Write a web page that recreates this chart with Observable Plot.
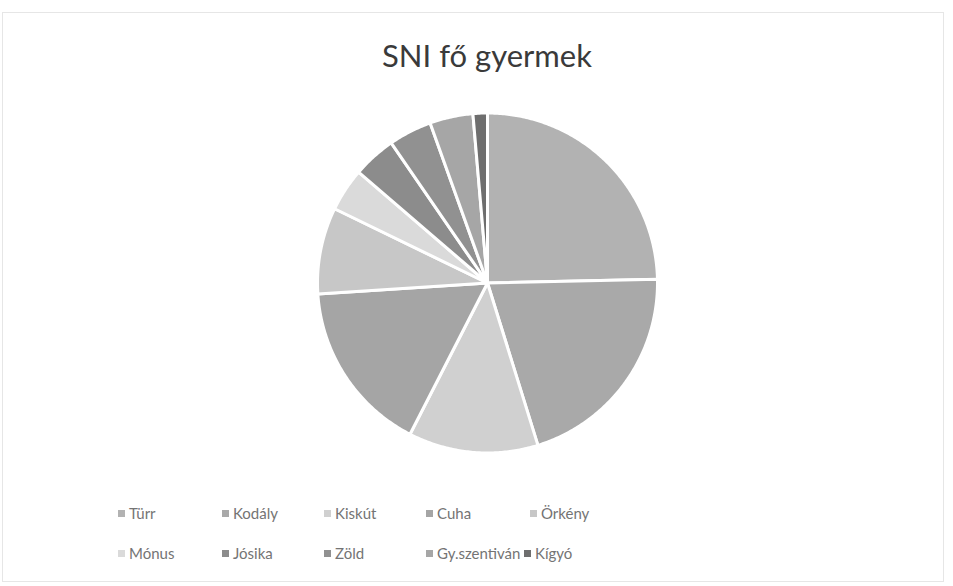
<!DOCTYPE html>
<html>
<head>
<meta charset="utf-8">
<script src="https://cdn.jsdelivr.net/npm/d3@7"></script>
<script src="https://cdn.jsdelivr.net/npm/@observablehq/plot@0.6"></script>
<style>
  html, body { margin: 0; padding: 0; background: #fff; }
  #wrap { position: relative; width: 953px; height: 586px; overflow: hidden; font-family: Lato, "Open Sans", sans-serif; }
  #frame { position: absolute; left: 2px; top: 12px; width: 942px; height: 570px; border: 1px solid #e6e6e6; box-sizing: border-box; }
  #title { position: absolute; left: 21px; width: 932px; top: 36px; text-align: center; font-size: 31px; color: #3a3a3a; line-height: 38px; }
  #chart { position: absolute; left: 0; top: 95px; }
  .item { position: absolute; display: flex; align-items: center; font-size: 15px; color: #747474; white-space: nowrap; line-height: 20px; }
  .sw { width: 7px; height: 7px; margin-right: 4px; display: inline-block; }
</style>
</head>
<body>
<div id="wrap">
  <div id="frame"></div>
  <div id="title">SNI fő gyermek</div>
  <div id="chart"></div>
  <div id="legend"></div>
</div>
<script>
const labels = ["Türr", "Kodály", "Kiskút", "Cuha", "Örkény", "Mónus", "Jósika", "Zöld", "Gy.szentiván", "Kígyó"];
const values = [18, 15, 9, 12, 6, 3, 3, 3, 3, 1];
const colors = ["#b2b2b2", "#a9a9a9", "#d0d0d0", "#a5a5a5", "#c7c7c7", "#dadada", "#8c8c8c", "#919191", "#a6a6a6", "#6e6e6e"];

// Slice geometry in unit-circle coordinates, clockwise from 12 o'clock
const total = d3.sum(values);
let acc = 0;
const features = labels.map((label, i) => {
  const a0 = acc / total * 2 * Math.PI;
  acc += values[i];
  const a1 = acc / total * 2 * Math.PI;
  const n = Math.max(2, Math.ceil((a1 - a0) / 0.01));
  const pts = [[0, 0]];
  for (let k = 0; k <= n; k++) {
    const a = a0 + (a1 - a0) * k / n;
    pts.push([Math.sin(a), -Math.cos(a)]);
  }
  pts.push([0, 0]);
  return {type: "Feature", properties: {label, value: values[i]}, geometry: {type: "Polygon", coordinates: [pts]}};
});

const plot = Plot.plot({
  width: 953,
  height: 375,
  marginLeft: 21,
  marginRight: 0,
  marginTop: 0,
  marginBottom: 0,
  projection: {type: "identity", domain: {type: "MultiPoint", coordinates: [[-1, -1], [1, 1]]}, inset: 17.5},
  color: {domain: labels, range: colors},
  marks: [
    Plot.geo(features, {fill: d => d.properties.label, stroke: "white", strokeWidth: 3, strokeLinejoin: "round"})
  ]
});
document.getElementById("chart").appendChild(plot);

// Legend (two rows, like the original)
const legend = document.getElementById("legend");
const rowsY = [503, 543];
const colX = [118, 222, 324, 426, 530];
let prev = null;
labels.forEach((label, i) => {
  const r = Math.floor(i / 5), c = i % 5;
  const item = document.createElement("div");
  item.className = "item";
  let x = colX[c];
  item.style.top = rowsY[r] + "px";
  const sw = document.createElement("span");
  sw.className = "sw";
  sw.style.background = colors[i];
  item.appendChild(sw);
  item.appendChild(document.createTextNode(label));
  legend.appendChild(item);
  if (label === "Kígyó" && prev) {
    x = Math.max(513, prev.offsetLeft + prev.offsetWidth + 4);
  }
  item.style.left = x + "px";
  prev = item;
});
</script>
</body>
</html>
